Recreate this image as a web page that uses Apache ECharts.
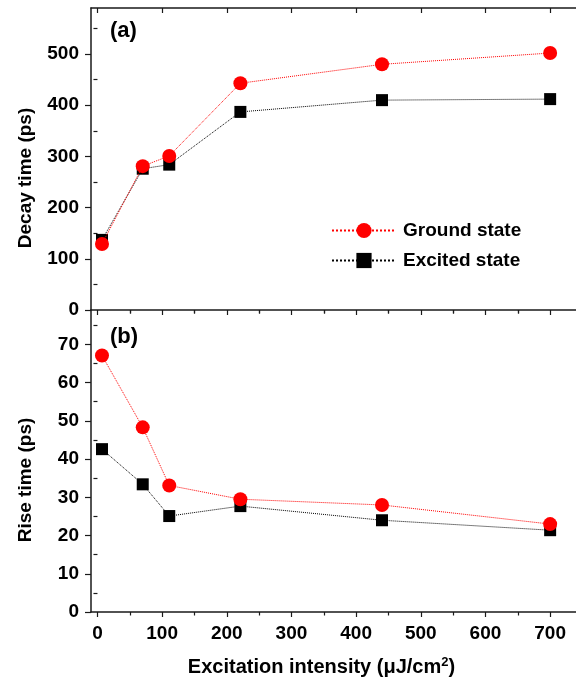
<!DOCTYPE html>
<html>
<head>
<meta charset="utf-8">
<script src="https://cdn.jsdelivr.net/npm/echarts@6/dist/echarts.min.js"></script>
<style>html,body{margin:0;padding:0;background:#fff}#c{width:576px;height:680px}</style>
</head>
<body>
<div id="c"></div>
<script>
// ---- data ----
const intensity = [7, 70, 111, 221, 440, 700];
const decayGround = [129, 281, 301, 443, 480, 502];
const decayExcited = [137, 276, 284, 387, 410, 412];
const riseGround = [67.1, 48.3, 33.1, 29.5, 28.0, 23.0];
const riseExcited = [42.6, 33.4, 25.1, 27.7, 24.0, 21.4];
// tick labels
const xTickLabels = [0, 100, 200, 300, 400, 500, 600, 700];
const xMinorTicks = [50, 150, 250, 350, 450, 550, 650];
const decayTickLabels = [0, 100, 200, 300, 400, 500];
const decayMinorTicks = [50, 150, 250, 350, 450, 550];
const riseTickLabels = [0, 10, 20, 30, 40, 50, 60, 70];
const riseMinorTicks = [5, 15, 25, 35, 45, 55, 65, 75];

const FONT = "'Liberation Sans', Arial, sans-serif";
const AXC = '#1a1a1a';

function pairs(xs, ys) { return xs.map((x, i) => [x, ys[i]]); }

function xAxisDef(grid, pos, inside, ticks, len, opts) {
  return Object.assign({
    type: 'value', gridIndex: grid, position: pos, min: -10, max: 740,
    axisLine: { show: true, onZero: false, lineStyle: { color: AXC, width: 1.5 } },
    axisTick: { show: true, inside: inside, length: len, customValues: ticks, lineStyle: { color: AXC, width: 1.2 } },
    axisLabel: { show: false },
    splitLine: { show: false }
  }, opts || {});
}
function yAxisDef(grid, max, ticks, len, opts) {
  return Object.assign({
    type: 'value', gridIndex: grid, position: 'left', min: 0, max: max,
    axisLine: { show: true, onZero: false, lineStyle: { color: AXC, width: 1.5 } },
    axisTick: { show: true, inside: false, length: len, customValues: ticks, lineStyle: { color: AXC, width: 1.2 } },
    axisLabel: { show: false },
    splitLine: { show: false }
  }, opts || {});
}
const labelStyle = { show: true, color: '#000', fontFamily: FONT, fontWeight: 'bold', fontSize: 19, margin: 12 };

const xAxes = [
  // grid 0 bottom (major + minor)
  xAxisDef(0, 'bottom', false, xTickLabels, 5),
  xAxisDef(0, 'bottom', false, xMinorTicks, 3.5, { axisLine: { show: false } }),
  // grid 0 top frame
  xAxisDef(0, 'top', true, xTickLabels, 5),
  xAxisDef(0, 'top', true, xMinorTicks, 3.5, { axisLine: { show: false } }),
  // grid 1 bottom with labels
  xAxisDef(1, 'bottom', false, xTickLabels, 5, {
    axisLabel: Object.assign({}, labelStyle, { customValues: xTickLabels }),
    name: 'Excitation intensity (μJ/cm{sup|2})',
    nameLocation: 'middle', nameGap: 44,
    nameTextStyle: {
      color: '#000', fontFamily: FONT, fontWeight: 'bold', fontSize: 20, padding: [0, 24, 0, 0],
      rich: { sup: { fontFamily: FONT, fontWeight: 'bold', fontSize: 13, color: '#000', verticalAlign: 'top', padding: [0, 0, 9, 0] } }
    }
  }),
  xAxisDef(1, 'bottom', false, xMinorTicks, 3.5, { axisLine: { show: false } })
];

const yName = (t) => ({
  name: t, nameLocation: 'middle', nameGap: 56, nameRotate: 90,
  nameTextStyle: { color: '#000', fontFamily: FONT, fontWeight: 'bold', fontSize: 19, padding: [0, 38, 0, 0] }
});

const yAxes = [
  yAxisDef(0, 590, decayTickLabels, 6, Object.assign({ axisLabel: Object.assign({}, labelStyle, { customValues: decayTickLabels }) }, yName('Decay time (ps)'))),
  yAxisDef(0, 590, decayMinorTicks, 4, { axisLine: { show: false } }),
  yAxisDef(1, 79, riseTickLabels, 6, Object.assign({ axisLabel: Object.assign({}, labelStyle, { customValues: riseTickLabels }) }, yName('Rise time (ps)'))),
  yAxisDef(1, 79, riseMinorTicks, 4, { axisLine: { show: false } })
];

function lineSeries(name, xi, yi, data, color, symbol, size, z) {
  return {
    type: 'line', name: name, xAxisIndex: xi, yAxisIndex: yi, data: data,
    symbol: symbol, symbolSize: size, showSymbol: true, z: z,
    itemStyle: { color: color, borderWidth: 0 },
    lineStyle: { color: color, width: 1, type: 'dotted' },
    emphasis: { disabled: true }, animation: false
  };
}

const option = {
  animation: false,
  backgroundColor: '#fff',
  grid: [
    { left: 91, top: 8, width: 488, height: 302, containLabel: false },
    { left: 91, top: 310, width: 488, height: 302, containLabel: false }
  ],
  title: [
    { text: '(a)', left: 110, top: 20, padding: 0, textStyle: { fontFamily: FONT, fontWeight: 'bold', fontSize: 22, color: '#000' } },
    { text: '(b)', left: 110, top: 326, padding: 0, textStyle: { fontFamily: FONT, fontWeight: 'bold', fontSize: 22, color: '#000' } }
  ],
  legend: {
    left: 331, top: 221, orient: 'vertical', itemWidth: 64, itemHeight: 19, itemGap: 11,
    padding: 0, selectedMode: false,
    textStyle: { fontFamily: FONT, fontWeight: 'bold', fontSize: 19, color: '#000', padding: [0, 0, 0, 2] },
    data: ['Ground state', 'Excited state']
  },
  xAxis: xAxes,
  yAxis: yAxes,
  series: [
    lineSeries('Excited state', 0, 0, pairs(intensity, decayExcited), '#000', 'rect', 12, 3),
    lineSeries('Ground state', 0, 0, pairs(intensity, decayGround), '#ff0000', 'circle', 14, 4),
    lineSeries('Excited state', 4, 2, pairs(intensity, riseExcited), '#000', 'rect', 12, 3),
    lineSeries('Ground state', 4, 2, pairs(intensity, riseGround), '#ff0000', 'circle', 14, 4)
  ]
};

const chart = echarts.init(document.getElementById('c'), null, { renderer: 'canvas' });
chart.setOption(option);
</script>
</body>
</html>
